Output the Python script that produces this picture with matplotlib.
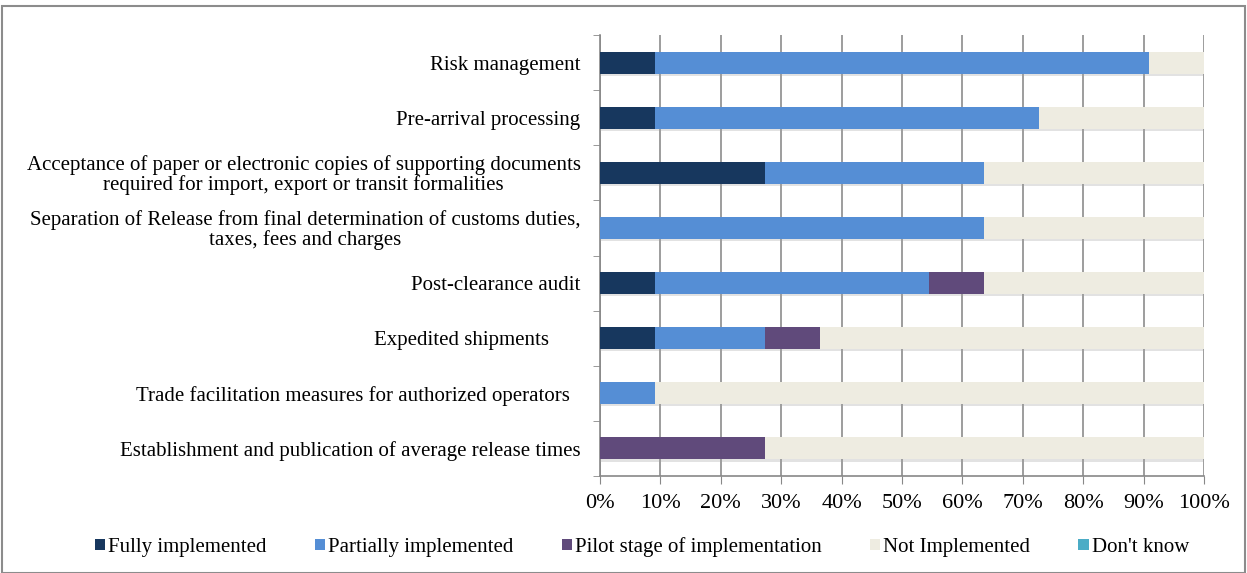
import matplotlib.pyplot as plt
import matplotlib.patheffects as pe
from matplotlib.patches import Rectangle
from matplotlib.ticker import PercentFormatter, FixedLocator
import numpy as np

plt.rcParams['font.family'] = ['Liberation Serif', 'DejaVu Serif']

categories = [
    "Risk management",
    "Pre-arrival processing",
    "Acceptance of paper or electronic copies of supporting documents\nrequired for import, export or transit formalities",
    "Separation of Release from final determination of customs duties,\ntaxes, fees and charges",
    "Post-clearance audit",
    "Expedited shipments      ",
    "Trade facilitation measures for authorized operators  ",
    "Establishment and publication of average release times",
]

# shares (out of 11 respondents), top to bottom
fully = [9.09, 9.09, 27.27, 0, 9.09, 9.09, 0, 0]
partially = [81.82, 63.64, 36.36, 63.64, 45.45, 18.18, 9.09, 0]
pilot = [0, 0, 0, 0, 9.09, 9.09, 0, 27.27]
not_impl = [9.09, 27.27, 36.36, 36.36, 36.36, 63.64, 90.91, 72.73]
dont_know = [0, 0, 0, 0, 0, 0, 0, 0]

series = [
    ("Fully implemented", fully, "#17375E"),
    ("Partially implemented", partially, "#558ED5"),
    ("Pilot stage of implementation", pilot, "#604A7B"),
    ("Not Implemented", not_impl, "#EEECE1"),
    ("Don't know", dont_know, "#4BACC6"),
]

fig = plt.figure(figsize=(12.47, 5.73), dpi=100)
ax = fig.add_axes([600 / 1247, 1 - 476 / 573, 604 / 1247, 441 / 573])

y = np.arange(len(categories))
left = np.zeros(len(categories))
handles = []
shadow = [pe.SimplePatchShadow(offset=(0, -1.5), shadow_rgbFace='#a0a0a0', alpha=0.3), pe.Normal()]
for name, vals, col in series:
    vals = np.array(vals) / 100
    ax.barh(y, vals, left=left, height=0.4, color=col, edgecolor='none',
            path_effects=shadow, zorder=3)
    left += vals
    handles.append(Rectangle((0, 0), 1, 1, facecolor=col, edgecolor='none', label=name))

ax.set_ylim(len(categories) - 0.5, -0.5)
ax.set_xlim(0, 1)
ax.set_yticks(y)
ax.set_yticklabels(categories, fontsize=15, multialignment='center', linespacing=1.0)
ax.yaxis.set_minor_locator(FixedLocator(np.arange(-0.5, len(categories), 1)))
ax.tick_params(axis='y', which='major', length=0, pad=14)
ax.tick_params(axis='y', which='minor', length=5, color='#888888', direction='out')

ax.set_xticks(np.arange(0, 1.01, 0.1))
ax.xaxis.set_major_formatter(PercentFormatter(1.0, decimals=0))
ax.tick_params(axis='x', length=6, color='#888888', direction='out', pad=7)
for lbl in ax.get_xticklabels():
    lbl.set_fontsize(16)
ax.grid(axis='x', color='#8c8c8c', linewidth=1.2, zorder=0)
ax.set_axisbelow(True)

for s in ['top', 'right']:
    ax.spines[s].set_visible(False)
for s in ['left', 'bottom']:
    ax.spines[s].set_color('#888888')
    ax.spines[s].set_linewidth(1.2)

fig.legend(handles=handles, loc='center', bbox_to_anchor=(642 / 1247, 1 - 547 / 573),
           ncol=5, frameon=False, fontsize=15, handlelength=0.5, handleheight=0.5,
           handletextpad=0.15, columnspacing=2.3)

fig.patches.append(Rectangle((2 / 1247, 0), 1243 / 1247, 1 - 6 / 573, transform=fig.transFigure,
                             fill=False, edgecolor='#8c8c8c', linewidth=1.5))

fig.savefig('out.png', dpi=100)
